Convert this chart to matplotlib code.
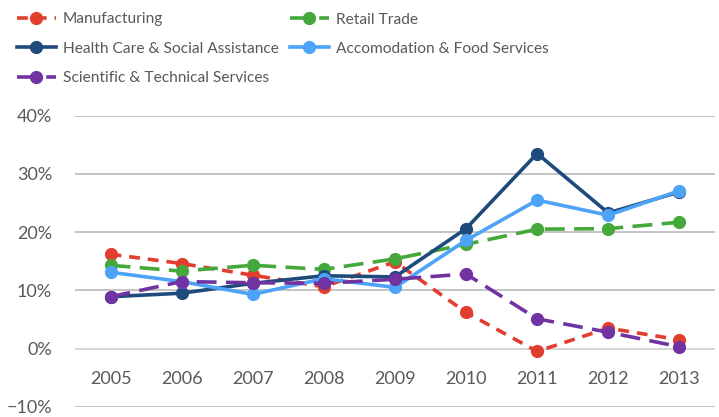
import matplotlib.pyplot as plt
from matplotlib.ticker import PercentFormatter
from matplotlib.transforms import ScaledTranslation

years = ["2005","2006","2007","2008","2009","2010","2011","2012","2013"]
manufacturing = [16.2,14.6,12.6,10.6,14.9,6.2,-0.5,3.5,1.5]
retail = [14.3,13.3,14.3,13.6,15.4,17.9,20.5,20.6,21.7]
health = [8.9,9.5,11.2,12.5,12.3,20.6,33.5,23.3,26.9]
accomodation = [13.1,11.5,9.3,12.0,10.5,18.6,25.5,22.9,27.1]
scientific = [8.9,11.5,11.3,11.2,11.9,12.8,5.1,2.8,0.3]

plt.rcParams["font.family"] = ["Lato", "DejaVu Sans"]
text_col = "#595959"

fig = plt.figure(figsize=(7.19,4.17), dpi=100)
ax = fig.add_axes([0.1043,0.0247,0.89,0.6978])

x = range(len(years))
lw = 2.6
ms = 8.5
l1, = ax.plot(x,manufacturing,color="#E23E2F",lw=lw,marker="o",ms=ms,dashes=(3,2.2),label="Manufacturing")
l2, = ax.plot(x,retail,color="#44A83A",lw=lw,marker="o",ms=ms,dashes=(5.5,2.6),label="Retail Trade")
l3, = ax.plot(x,health,color="#1F4A7C",lw=lw,marker="o",ms=ms,label="Health Care & Social Assistance")
l4, = ax.plot(x,accomodation,color="#4DA3F7",lw=lw,marker="o",ms=ms,label="Accomodation & Food Services")
l5, = ax.plot(x,scientific,color="#7132A2",lw=lw,marker="o",ms=ms,dashes=(5.5,2.6),label="Scientific & Technical Services")

ax.set_xlim(-0.5,8.5)
ax.set_ylim(-10,40)
ax.set_yticks([-10,0,10,20,30,40])
ax.yaxis.set_major_formatter(PercentFormatter(decimals=0))
ax.grid(axis="y",color="#B4B4B4",lw=1.1)
ax.set_axisbelow(True)
ax.axhline(0,color="#D9D9D9",lw=1.3,zorder=1)
for s in ax.spines.values():
    s.set_visible(False)
ax.tick_params(axis="both",length=0,labelsize=13,colors=text_col)
ax.tick_params(axis="y",pad=16.5)
ax.set_xticks(list(x))
ax.set_xticklabels(years)
# year labels sit just under the 0% line
shift = ScaledTranslation(0,-0.22,fig.dpi_scale_trans)
for lab in ax.get_xticklabels():
    lab.set_transform(ax.get_xaxis_transform() + shift)
    lab.set_y(0.2)
    lab.set_verticalalignment("top")

order = [l1,l3,l5,l2,l4]
leg = fig.legend(order,[l.get_label() for l in order],
                 loc="upper left",bbox_to_anchor=(17/719,1-12.5/417),ncol=2,frameon=False,
                 borderaxespad=0,borderpad=0,fontsize=11.2,
                 handlelength=2.5,handletextpad=0.46,columnspacing=0.7,
                 labelspacing=0.98,labelcolor=text_col)

plt.savefig("out.png",dpi=100)
